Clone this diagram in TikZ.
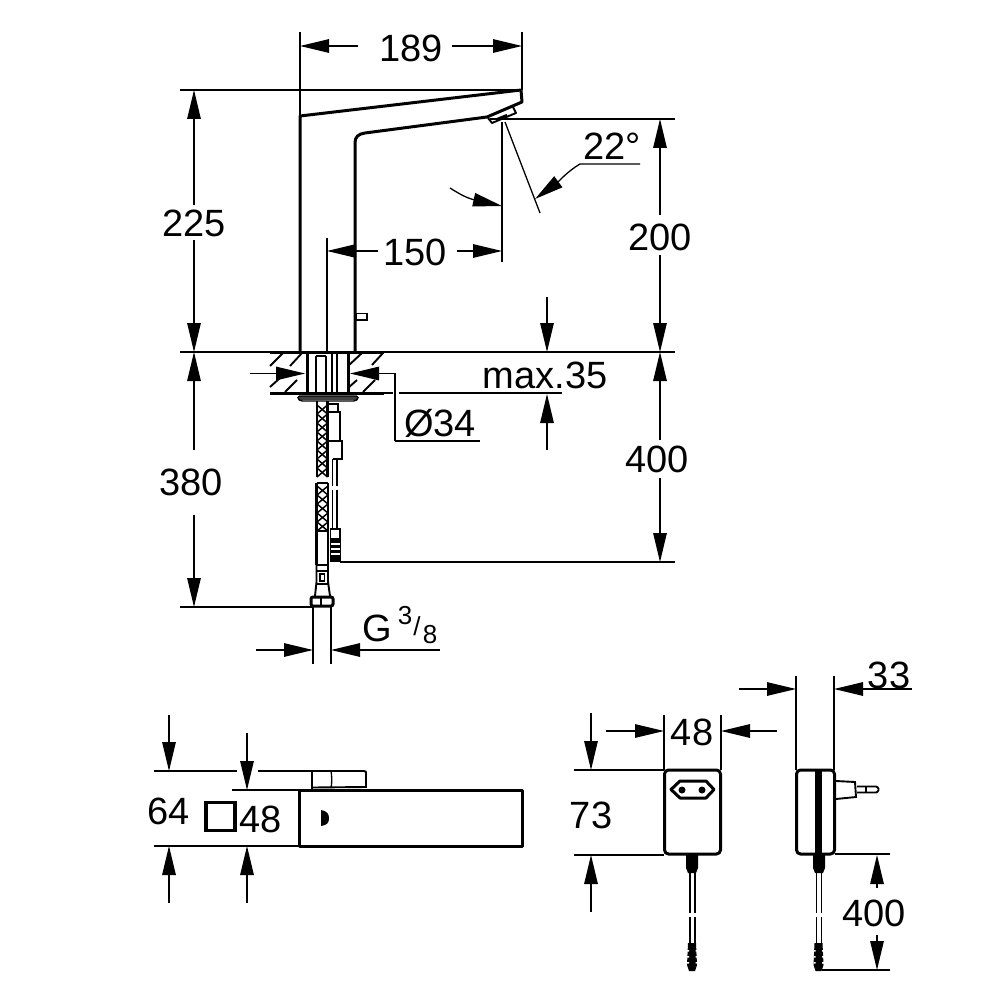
\documentclass[tikz,border=0pt]{standalone}
\usepackage{fontspec}
\setmainfont{Liberation Sans}
\usetikzlibrary{arrows.meta}
\tikzset{
 dim/.style={line width=1.3pt,line cap=butt},
 arr/.style={dim,-{Triangle[length=29pt,width=13.5pt]}},
 body/.style={line width=3pt,line join=round,line cap=round},
 mid/.style={line width=1.9pt},
 lab/.style={font=\fontsize{38}{38}\selectfont,inner sep=0pt,anchor=center},
 small/.style={font=\fontsize{26}{26}\selectfont,inner sep=0pt,anchor=center}
}
\begin{document}
\begin{tikzpicture}[x=1pt,y=-1pt]
\useasboundingbox (0,0) rectangle (1000,1000);
\fill[white] (0,0) rectangle (1000,1000);
% ---- extension lines
\draw[dim] (300,32)--(300,116) (522,32)--(522,90);
\draw[dim] (180,90)--(522,90);
\draw[dim] (180,352)--(675,352);
\draw[dim] (490,119)--(675,119);
\draw[dim] (502,122)--(502,262);
\draw[dim] (327,238)--(327,352);
\draw[dim] (505,122)--(540,213);
\draw[dim] (180,607)--(312,607);
\draw[dim] (340,562)--(675,562);
\draw[dim] (384,393)--(393,393) (399,393)--(562,393);
\draw[dim] (313,607)--(313,664) (331,607)--(331,664);
% ---- dimension arrows
\draw[arr] (358,46)--(300,46);
\draw[arr] (452,46)--(522,46);
\draw[arr] (194,205)--(194,90);
\draw[arr] (194,240)--(194,352);
\draw[arr] (660,215)--(660,119);
\draw[arr] (660,255)--(660,352);
\draw[arr] (378,251)--(327,251);
\draw[arr] (457,251)--(502,251);
\draw[arr] (194,450)--(194,352);
\draw[arr] (194,515)--(194,607);
\draw[arr] (660,440)--(660,352);
\draw[arr] (660,478)--(660,562);
\draw[arr] (547,297)--(547,352);
\draw[arr] (547,450)--(547,394);
\draw[arr] (250,373.5)--(305,373.5);
\draw[arr] (395,441)--(395,373.5)--(350,373.5);
\draw[dim] (395,441)--(480,441);
\draw[arr] (256,650)--(313,650);
\draw[arr] (440,650)--(331,650);
\draw[arr] (640,164)--(580,164) .. controls (568,171) and (558,182) .. (535,199);
\draw[arr] (450,188) .. controls (458,193) and (466,198) .. (475,200)--(502,206);
% ---- spout body
\draw[body] (300,352)--(300,116)--(521,90)--(522,102)--(487,117)--(365,133)
  .. controls (358,134) and (355,137) .. (355,143)--(355,352);
\draw[mid,line join=round] (488,118)--(492,123)--(516,113)--(513,107);
\draw[line width=2.2pt] (497,119)--(507,115);
\draw[mid] (356,313.5) rectangle (367,320);
% ---- deck and hatch
\draw[line width=2.6pt] (270,353)--(384,353) (270,393.5)--(384,393.5);
\draw[mid] (270,366)--(283,353) (290,366)--(302,353) (270,387)--(280,378) (285,392)--(297,380)
 (348,366)--(362,353) (372,365)--(383,353) (348,388)--(357,380) (363,392)--(375,380);
\draw[body] (307,353)--(307,393) (348,353)--(348,393);
\draw[mid] (316,356)--(316,393) (326,356)--(326,393) (332,353)--(332,393) (337,353)--(337,393);
\draw[line width=2.6pt] (316,356)--(326,356);
\fill[black!75] (298,396) rectangle (358,400) ;
\draw[line width=1.4pt,rounded corners=1.5pt] (298,396)--(298,399)--(301,401)--(355,401)--(358,399)--(358,396)--cycle;
% ---- hose
\draw[line width=2.2pt] (317,401)--(317,477) (327.5,401)--(327.5,477);
\draw[line width=2.2pt] (316.5,483)--(316.5,565) (328,483)--(328,565);
\foreach \y in {405,414,...,468} {
 \draw[line width=1.5pt] (317,\y)--(327.5,\y+9) (327.5,\y)--(317,\y+9);}
\foreach \y in {486,495,...,522} {
 \draw[line width=1.5pt] (317,\y)--(328,\y+9) (328,\y)--(317,\y+9);}
\draw[mid] (316.5,483)--(328,483) (316.5,531)--(328,531);
\draw[line width=2.4pt] (316.5,565)--(328,565);
% ---- lower fitting
\draw[mid] (316.5,565)--(316.5,582)--(315,596) (328,565)--(328,582)--(330,596);
\draw[mid] (316.5,571)--(328,571) (316.5,584)--(328,584);
\draw[line width=1.4pt] (320,574) rectangle (324.5,581);
\draw[line width=3pt,rounded corners=2pt] (311,597) rectangle (333,606);
\draw[mid] (321,597)--(321,606);
% ---- wire and connector in the wall
\draw[mid] (328,404)--(338,404)--(338,412) (328,412) rectangle (340,441);
\draw[mid] (333,441)--(342,441)--(342,459)--(333,459);
\draw[mid] (332.5,459)--(332.5,486) (337,459)--(337,486) (332.5,490)--(332.5,528) (337,490)--(337,528);
\draw[mid] (330.5,529) rectangle (340,561);
\fill (330,538) rectangle (341,561);
\foreach \y in {543,548,553} {\fill[white] (331,\y) rectangle (340,\y+1.5);}
% ---- top view
\draw[dim] (154,771)--(237,771) (258,771)--(312,771);
\draw[dim] (232,790)--(299,790);
\draw[dim] (154,846)--(299,846);
\draw[arr] (169,715)--(169,771);
\draw[arr] (169,903)--(169,846);
\draw[arr] (247,733)--(247,790);
\draw[arr] (247,903)--(247,846);
\draw[body] (299,790) rectangle (522,846);
\draw[mid] (312,789)--(312,771)--(364,771) .. controls (366,771) and (366,772) .. (366,773)--(366,787)--(312,787.5);
\draw[dim] (331,771) .. controls (332,777) and (332,783) .. (331,788);
\fill (321,810) .. controls (327,811) and (329,814) .. (329,818) .. controls (329,823) and (327,825) .. (321,826)--cycle;
\draw[line width=3.6pt] (206,802.5) rectangle (235,830.5);
% ---- adapter front
\draw[dim] (664,715)--(664,770) (721,715)--(721,770);
\draw[dim] (574,770)--(664,770) (574,855)--(664,855);
\draw[arr] (606,731)--(664,731);
\draw[arr] (777,731)--(721,731);
\draw[arr] (591,713)--(591,770);
\draw[arr] (591,912)--(591,855);
\draw[body,rounded corners=4pt] (664.5,770) rectangle (720.5,854);
\draw[body] (671,789.5)--(680,781)--(706,781)--(714,789.5)--(706,798)--(680,798)--cycle;
\fill (682,790) circle (3.5) (702,790) circle (3.5);
\fill (686,855)--(698,855)--(698,868)--(696,873)--(688,873)--(686,868)--cycle;
\draw[line width=1.6pt] (690,873)--(690,913) (695,873)--(695,913) (690,917)--(690,943) (695,917)--(695,943);
\fill (688,943)--(696,943)--(697,965)--(695,971)--(689,971)--(687,965)--cycle;
\foreach \y in {950,956,962} {\fill[white] (687,\y) rectangle (689,\y+1.5) (695.5,\y) rectangle (698,\y+1.5);}
% ---- adapter side
\draw[dim] (796,676)--(796,770) (834,676)--(834,770);
\draw[arr] (739,689)--(796,689);
\draw[arr] (912,689)--(834,689);
\draw[dim] (835,854)--(890,854) (822,970)--(890,970);
\draw[arr] (877,888)--(877,855);
\draw[arr] (877,935)--(877,970);
\draw[body,rounded corners=4pt] (796.5,770) rectangle (834.5,854);
\fill (815,769) rectangle (822,855);
\draw[mid] (836,781)--(855,782)--(856,797)--(836,799);
\draw[mid,rounded corners=1pt] (857,786.5)--(877,786.5)--(879,789.5)--(877,792.5)--(857,792.5);
\draw[dim] (866,786.5)--(866,792.5);
\fill (813,855)--(825,855)--(825,868)--(823,873)--(815,873)--(813,868)--cycle;
\draw[line width=1.6pt] (816.5,873)--(816.5,913) (821.5,873)--(821.5,913) (816.5,917)--(816.5,943) (821.5,917)--(821.5,943);
\fill (814.5,943)--(822.5,943)--(823.5,965)--(821.5,971)--(815.5,971)--(813.5,965)--cycle;
\foreach \y in {950,956,962} {\fill[white] (813.5,\y) rectangle (815.5,\y+1.5) (822,\y) rectangle (824.5,\y+1.5);}
% ---- labels
\node[lab] (t189) at (411,48) {189};
\node[lab] (t225) at (194,223) {225};
\node[lab] (t200) at (660,237.5) {200};
\node[lab] (t150) at (415,252) {150};
\node[lab] (t22) at (612,146) {22°};
\node[lab] (tmax) at (545,375.5) {max.35};
\node[lab] (tdia) at (440,423) {Ø34};
\node[lab] (t380) at (191,482) {380};
\node[lab] (t400) at (657,459) {400};
\node[lab] (tG) at (377,628) {G};
\node[small] (t3) at (405,616) {3};
\node[small] (tsl) at (417,626) {/};
\node[small] (t8) at (430,635) {8};
\node[lab] (t64) at (169,811) {64};
\node[lab] (t48a) at (261,819) {48};
\node[lab] (t48b) at (692,732) {48};
\node[lab] (t73) at (591,815) {73};
\node[lab] (t33) at (889,675) {33};
\node[lab] (t400b) at (874,913) {400};
\end{tikzpicture}
\end{document}
